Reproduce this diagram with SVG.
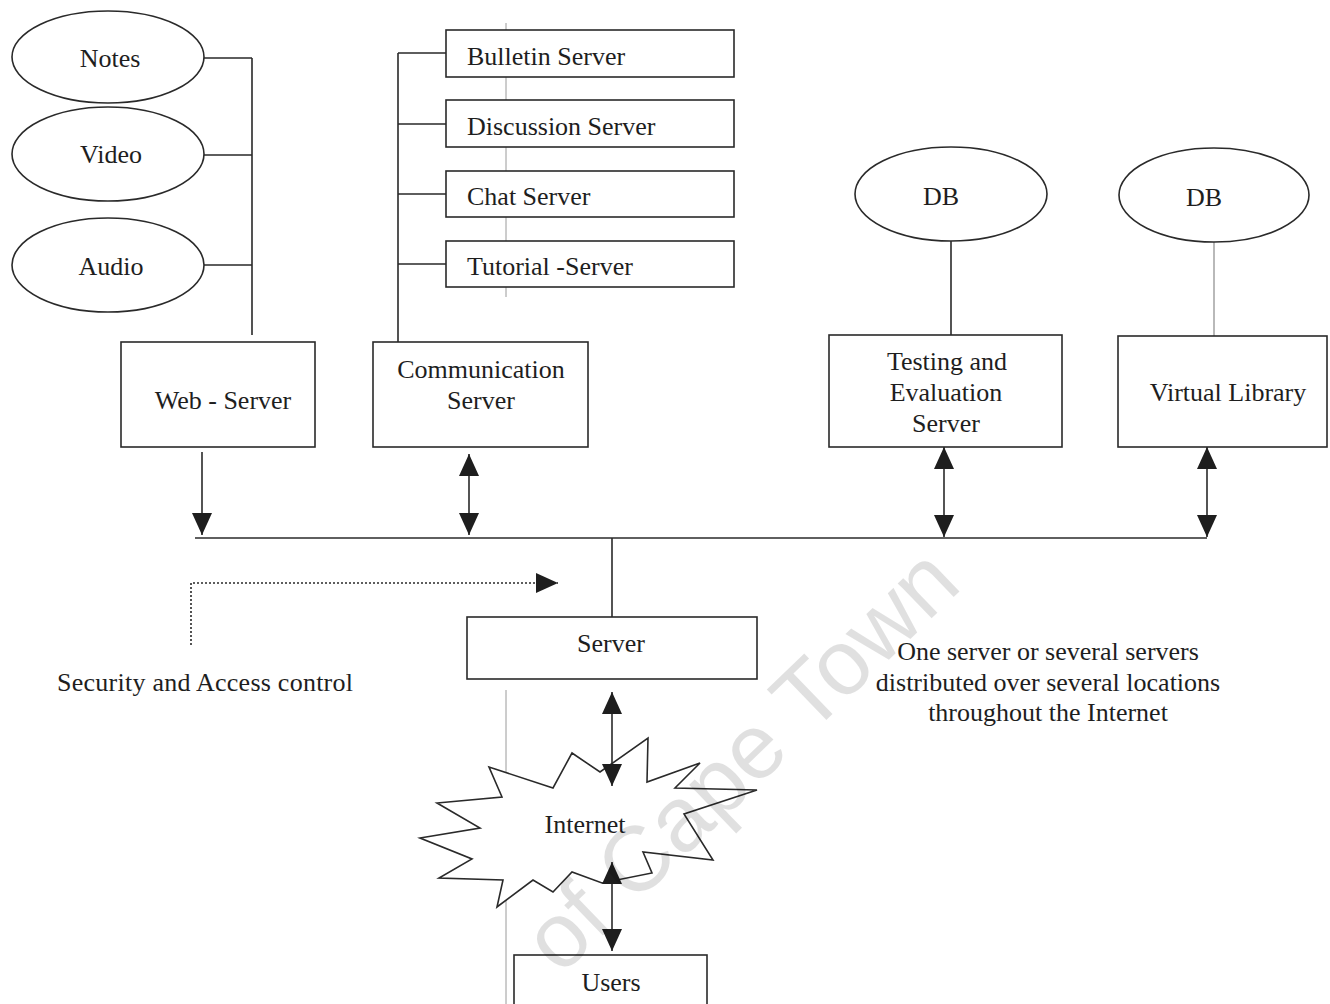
<svg xmlns="http://www.w3.org/2000/svg" width="1330" height="1004" viewBox="0 0 1330 1004">
  <defs>
    <style>
      .box { fill: #ffffff; stroke: #2a2a2a; stroke-width: 1.6; }
      .oval { fill: #ffffff; stroke: #2a2a2a; stroke-width: 1.6; }
      .wire { fill: none; stroke: #2a2a2a; stroke-width: 1.6; }
      .thin { fill: none; stroke: #8a8a8a; stroke-width: 1.2; }
      .dots { fill: none; stroke: #2a2a2a; stroke-width: 1.6; stroke-dasharray: 2 2; }
      .crease { stroke: #9a9a9a; stroke-width: 1; }
      text { font-family: "Liberation Serif", "Times New Roman", serif; font-size: 26px; fill: #1e1e1e; }
      .mid { text-anchor: middle; }
      .mark { font-family: "Liberation Sans", Arial, sans-serif; font-size: 92px; fill: #000000; fill-opacity: 0.12; text-anchor: middle; }
    </style>
    <marker id="head" markerUnits="userSpaceOnUse" markerWidth="22" markerHeight="20" refX="22" refY="10" orient="auto-start-reverse">
      <path d="M0,0 L22,10 L0,20 Z" fill="#1e1e1e"/>
    </marker>
  </defs>

  <rect width="1330" height="1004" fill="#ffffff"/>

  <!-- page crease lines -->
  <line class="crease" x1="506" y1="23" x2="506" y2="297"/>
  <line class="crease" x1="506" y1="690" x2="506" y2="1004"/>

  <!-- connectors -->
  <g id="connectors">
    <!-- media to web server -->
    <path class="wire" d="M204,58 H252 M204,155 H252 M204,265 H252 M252,58 V335"/>
    <!-- communication sub-servers -->
    <path class="wire" d="M398,53 V342 M398,53 H446 M398,124 H446 M398,194 H446 M398,264 H446"/>
    <!-- databases -->
    <line class="wire" x1="951" y1="241" x2="951" y2="335"/>
    <line class="thin" x1="1214" y1="242" x2="1214" y2="336"/>
    <!-- bus -->
    <line class="wire" x1="195" y1="538" x2="1207" y2="538"/>
    <line class="wire" x1="612" y1="538" x2="612" y2="617"/>
    <!-- arrows to bus -->
    <line class="wire" x1="202" y1="452" x2="202" y2="535" marker-end="url(#head)"/>
    <line class="wire" x1="469" y1="454" x2="469" y2="535" marker-start="url(#head)" marker-end="url(#head)"/>
    <line class="wire" x1="944" y1="447" x2="944" y2="537" marker-start="url(#head)" marker-end="url(#head)"/>
    <line class="wire" x1="1207" y1="447" x2="1207" y2="537" marker-start="url(#head)" marker-end="url(#head)"/>
    <!-- security path -->
    <path class="dots" d="M191,645 V583 H558" marker-end="url(#head)"/>
  </g>

  <!-- media sources -->
  <g id="notes">
    <ellipse class="oval" cx="108" cy="57" rx="96" ry="46"/>
    <text class="mid" x="110" y="67">Notes</text>
  </g>
  <g id="video">
    <ellipse class="oval" cx="108" cy="154" rx="96" ry="47"/>
    <text class="mid" x="111" y="163">Video</text>
  </g>
  <g id="audio">
    <ellipse class="oval" cx="108" cy="265" rx="96" ry="47"/>
    <text class="mid" x="111" y="275">Audio</text>
  </g>

  <g id="web-server">
    <rect class="box" x="121" y="342" width="194" height="105"/>
    <text class="mid" x="223" y="409">Web - Server</text>
  </g>

  <!-- communication sub-servers -->
  <g id="bulletin-server">
    <rect class="box" x="446" y="30" width="288" height="47"/>
    <text x="467" y="65">Bulletin Server</text>
  </g>
  <g id="discussion-server">
    <rect class="box" x="446" y="100" width="288" height="47"/>
    <text x="467" y="135">Discussion Server</text>
  </g>
  <g id="chat-server">
    <rect class="box" x="446" y="171" width="288" height="46"/>
    <text x="467" y="205">Chat Server</text>
  </g>
  <g id="tutorial-server">
    <rect class="box" x="446" y="241" width="288" height="46"/>
    <text x="467" y="275">Tutorial -Server</text>
  </g>

  <g id="communication-server">
    <rect class="box" x="373" y="342" width="215" height="105"/>
    <text class="mid" x="481" y="378">Communication</text>
    <text class="mid" x="481" y="409">Server</text>
  </g>

  <!-- databases -->
  <g id="db-testing">
    <ellipse class="oval" cx="951" cy="194" rx="96" ry="47"/>
    <text class="mid" x="941" y="205">DB</text>
  </g>
  <g id="db-library">
    <ellipse class="oval" cx="1214" cy="195" rx="95" ry="47"/>
    <text class="mid" x="1204" y="206">DB</text>
  </g>

  <g id="testing-server">
    <rect class="box" x="829" y="335" width="233" height="112"/>
    <text class="mid" x="947" y="370">Testing and</text>
    <text class="mid" x="946" y="401">Evaluation</text>
    <text class="mid" x="946" y="432">Server</text>
  </g>
  <g id="virtual-library">
    <rect class="box" x="1118" y="336" width="209" height="111"/>
    <text class="mid" x="1228" y="401">Virtual Library</text>
  </g>

  <g id="security-label">
    <text x="57" y="691" textLength="296">Security and Access control</text>
  </g>

  <g id="server">
    <rect class="box" x="467" y="617" width="290" height="62"/>
    <text class="mid" x="611" y="652">Server</text>
  </g>

  <g id="server-note">
    <text class="mid" x="1048" y="660">One server or several servers</text>
    <text class="mid" x="1048" y="691">distributed over several locations</text>
    <text class="mid" x="1048" y="721">throughout the Internet</text>
  </g>

  <g id="internet">
    <polygon class="box" points="420,838 480,828 437,803 502,797 489,767 553,788 572,753 600,772 648,738 647,782 700,763 675,788 757,790 684,814 713,860 643,852 652,873 602,883 572,872 553,892 533,880 497,907 503,880 439,878 472,859"/>
    <text class="mid" x="585" y="833">Internet</text>
  </g>

  <g id="users">
    <rect class="box" x="514" y="955" width="193" height="50"/>
    <text class="mid" x="611" y="991">Users</text>
  </g>

  <!-- links through the internet -->
  <g id="connectors-internet">
    <line class="wire" x1="612" y1="692" x2="612" y2="786" marker-start="url(#head)" marker-end="url(#head)"/>
    <line class="wire" x1="612" y1="862" x2="612" y2="951" marker-start="url(#head)" marker-end="url(#head)"/>
  </g>

  <!-- faint watermark printed over the page -->
  <text class="mark" transform="translate(762,782) rotate(-44)">of Cape Town</text>
</svg>
